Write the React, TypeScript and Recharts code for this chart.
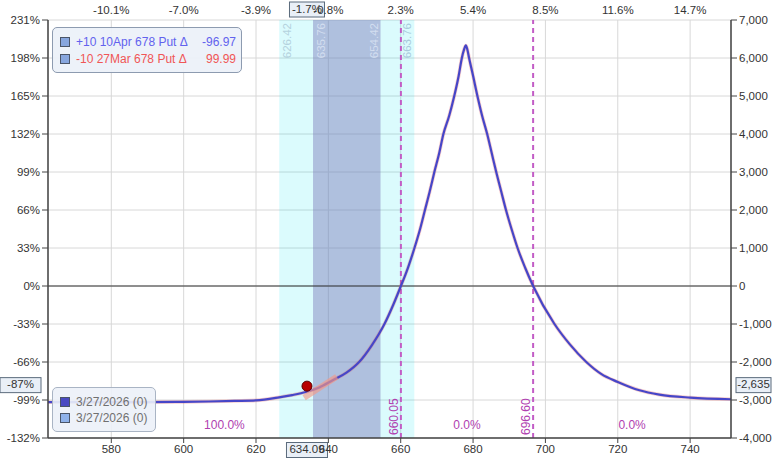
// Put calendar P&L chart: price on x, dollar P&L on the right axis, % of capital on the left.
import {
  CartesianGrid,
  Line,
  LineChart,
  ReferenceArea,
  ReferenceDot,
  ReferenceLine,
  XAxis,
  YAxis,
} from "recharts";

const prices = [
  562.5, 570, 580, 590, 600, 607, 614, 620, 626.4, 630, 633.8, 637.5, 641.2, 645,
  648.5, 652, 655.5, 658, 660.05, 662, 663.8, 665.3, 666.7, 668, 669.3, 670.6,
  671.8, 673.4, 674.8, 676, 676.9, 677.5, 678, 678.4, 678.9, 680, 681.2, 682.5,
  683.9, 685.2, 686.4, 687.8, 689.1, 690.7, 692.3, 694.4, 696.6, 702.5,
  706.7, 711.3, 715.5, 720, 726, 731.5, 740, 751.3,
];
const pnl = [
  -3058, -3058, -3057, -3056, -3050, -3040, -3025, -3010, -2930, -2870, -2790,
  -2670, -2480, -2280, -2000, -1560, -1000, -480, 0, 480, 1000, 1480, 2000, 2480,
  3000, 3480, 4000, 4480, 5000, 5520, 6000, 6220, 6330, 6230, 6000, 5530, 5000,
  4480, 4000, 3480, 3000, 2480, 2000, 1480, 1000, 480, 0, -1000, -1530,
  -2000, -2320, -2525, -2745, -2858, -2937, -2980,
];

const priceTicks = [580, 600, 620, 640, 660, 680, 700, 720, 740];
const moveLabels = ["-10.1%", "-7.0%", "-3.9%", "-0.8%", "2.3%", "5.4%", "8.5%", "11.6%", "14.7%"];
const pnlTicks = [-4000, -3000, -2000, -1000, 0, 1000, 2000, 3000, 4000, 5000, 6000, 7000];
const pctTicks = [-132, -99, -66, -33, 0, 33, 66, 99, 132, 165, 198, 231];

const outerBand = [626.42, 663.76];
const innerBand = [635.76, 654.42];
const breakEvens = [660.05, 696.6];
const breakEvenLabels = ["660.05", "696.60"];
const probLabels = ["100.0%", "0.0%", "0.0%"];

const currentPrice = 634.09;
const currentPnl = -2635;
const currentMove = "-1.7%";
const currentPct = "-87%";
const tangent = [
  { x: 633.3, y: -2940 },
  { x: 642.3, y: -2390 },
];

const legendRows = [
  { text: "+10 10Apr 678 Put Δ", value: "-96.97", color: "#6262ee" },
  { text: "-10 27Mar 678 Put Δ", value: "99.99", color: "#f05656" },
];
const dateRows = [
  { text: "3/27/2026 (0)", swatch: "#4a4ac2" },
  { text: "3/27/2026 (0)", swatch: "#8fb2ea" },
];

const xMin = 562.5;
const xMax = 751.3;
const data = prices.map((p, i) => ({ price: p, pnl: pnl[i] }));
const regionEdges = [xMin, ...breakEvens, xMax];

const FONT = "'Liberation Sans', Arial, sans-serif";
const AX = { xAxisId: "price", yAxisId: "pnl" };

function BandText(edge: "left" | "right", text: string, color: string) {
  return (props: any) => {
    const vb = props.viewBox;
    const cx = edge === "left" ? vb.x + 9 : vb.x - 6;
    const cy = vb.y + 3;
    return (
      <text
        x={cx}
        y={cy}
        transform={`rotate(-90 ${cx} ${cy})`}
        textAnchor="end"
        dominantBaseline="middle"
        fill={color}
        fontSize={11.5}
      >
        {text}
      </text>
    );
  };
}

function BreakEvenText(text: string) {
  return (props: any) => {
    const vb = props.viewBox;
    const cx = vb.x - 6.5;
    const cy = vb.y + vb.height - 3;
    return (
      <text
        x={cx}
        y={cy}
        transform={`rotate(-90 ${cx} ${cy})`}
        textAnchor="start"
        dominantBaseline="middle"
        fill="#b040b0"
        fontSize={12}
      >
        {text}
      </text>
    );
  };
}

function Tag({ x, y, w, text, anchor }: { x: number; y: number; w: number; text: string; anchor: "start" | "middle" | "end" }) {
  // small boxed value tag on an axis
  const left = anchor === "middle" ? x - w / 2 : anchor === "end" ? x - w : x;
  return (
    <g>
      <rect x={left} y={y - 7.5} width={w} height={15} fill="#e9eff7" stroke="#5b6b7c" strokeWidth={1} />
      <text x={left + w / 2} y={y} textAnchor="middle" dominantBaseline="middle" fill="#333" fontSize={11.5}>
        {text}
      </text>
    </g>
  );
}

export default function App() {
  return (
    <div style={{ position: "absolute", left: 0, top: 0, width: 780, height: 460, background: "#fff", fontFamily: FONT }}>
      <LineChart width={780} height={460} data={data} margin={{ top: 0, right: 0, bottom: 0, left: 0 }}>
        {/* translucent bands so the grid underneath shows through */}
        <ReferenceArea {...AX} x1={outerBand[0]} x2={outerBand[1]} fill="#00e6ee" fillOpacity={0.14} stroke="none" />
        <ReferenceArea {...AX} x1={innerBand[0]} x2={innerBand[1]} fill="#7978b7" fillOpacity={0.45} stroke="none" />
        <CartesianGrid xAxisId="price" yAxisId="pnl" stroke="#d8d8d8" />
        <XAxis
          xAxisId="price"
          dataKey="price"
          type="number"
          domain={[xMin, xMax]}
          ticks={priceTicks}
          interval={0}
          allowDataOverflow
          height={22}
          tickSize={5}
          tick={{ fill: "#333", fontSize: 11.5 }}
          axisLine={{ stroke: "#444", strokeWidth: 1.5 }}
          tickLine={{ stroke: "#444" }}
        />
        <XAxis
          xAxisId="move"
          dataKey="price"
          orientation="top"
          type="number"
          domain={[xMin, xMax]}
          ticks={priceTicks}
          interval={0}
          allowDataOverflow
          height={20}
          tickSize={4}
          tickFormatter={(v: number) => moveLabels[priceTicks.indexOf(v)]}
          tick={{ fill: "#333", fontSize: 11.5 }}
          axisLine={false}
          tickLine={false}
        />
        <YAxis
          yAxisId="pct"
          orientation="left"
          type="number"
          domain={[-132, 231]}
          ticks={pctTicks}
          interval={0}
          allowDataOverflow
          width={48}
          tickFormatter={(v: number) => `${v}%`}
          tick={{ fill: "#333", fontSize: 11.5 }}
          axisLine={{ stroke: "#444", strokeWidth: 1.5 }}
          tickLine={{ stroke: "#444" }}
        />
        <YAxis
          yAxisId="pnl"
          orientation="right"
          type="number"
          domain={[-4000, 7000]}
          ticks={pnlTicks}
          interval={0}
          allowDataOverflow
          width={49}
          tickFormatter={(v: number) => v.toLocaleString("en-US")}
          tick={{ fill: "#333", fontSize: 11.5 }}
          axisLine={{ stroke: "#444", strokeWidth: 1.5 }}
          tickLine={{ stroke: "#444" }}
        />

        <ReferenceLine {...AX} x={outerBand[0]} stroke="none" label={BandText("left", "626.42", "#b4d2de")} />
        <ReferenceLine {...AX} x={innerBand[0]} stroke="none" label={BandText("left", "635.76", "#d3def0")} />
        <ReferenceLine {...AX} x={innerBand[1]} stroke="none" label={BandText("right", "654.42", "#d3def0")} />
        <ReferenceLine {...AX} x={outerBand[1]} stroke="none" label={BandText("right", "663.76", "#a9cbdc")} />

        <ReferenceLine {...AX} y={0} stroke="#333" strokeWidth={1.2} />
        {breakEvens.map((b, i) => (
          <ReferenceLine
            key={b}
            {...AX}
            x={b}
            stroke="#c25cc6"
            strokeWidth={2}
            strokeDasharray="5 4"
            label={BreakEvenText(breakEvenLabels[i])}
          />
        ))}
        {probLabels.map((t, i) => (
          <ReferenceDot
            key={i}
            {...AX}
            x={(regionEdges[i] + regionEdges[i + 1]) / 2}
            y={-3640}
            r={0}
            stroke="none"
            label={{ value: t, position: "center", fill: "#b040b0", fontSize: 12 }}
          />
        ))}

        <Line
          {...AX}
          dataKey="pnl"
          type="monotone"
          stroke="#e05a5a"
          strokeOpacity={0.3}
          strokeWidth={3.6}
          dot={false}
          isAnimationActive={false}
        />
        <Line
          {...AX}
          dataKey="pnl"
          type="monotone"
          stroke="#4646c8"
          strokeWidth={2.2}
          dot={false}
          isAnimationActive={false}
        />
        <ReferenceLine
          {...AX}
          segment={tangent}
          stroke="#f29a88"
          strokeOpacity={0.65}
          strokeWidth={6}
        />
        <ReferenceDot {...AX} x={currentPrice} y={currentPnl} r={5} fill="#b80000" stroke="#5c0000" strokeWidth={1} />

        <ReferenceLine
          {...AX}
          x={currentPrice}
          stroke="none"
          label={(props: any) => {
            const vb = props.viewBox;
            return (
              <g>
                <Tag x={vb.x} y={9.5} w={35} text={currentMove} anchor="middle" />
                <Tag x={vb.x} y={450} w={41} text={currentPrice.toFixed(2)} anchor="middle" />
              </g>
            );
          }}
        />
        <ReferenceLine
          {...AX}
          y={currentPnl}
          stroke="none"
          label={(props: any) => {
            const vb = props.viewBox;
            return (
              <g>
                <Tag x={0} y={vb.y - 1} w={41} text={currentPct} anchor="start" />
                <Tag x={736} y={vb.y - 1} w={35} text={currentPnl.toLocaleString("en-US")} anchor="start" />
              </g>
            );
          }}
        />
      </LineChart>

      <div
        style={{
          position: "absolute",
          left: 52,
          top: 27,
          width: 190,
          height: 46,
          border: "1px solid #8d9bb0",
          borderRadius: 5,
          background: "rgba(236,241,248,0.92)",
          fontSize: 12,
          boxSizing: "border-box",
          padding: "5px 0 0 7px",
        }}
      >
        {legendRows.map((r) => (
          <div key={r.text} style={{ display: "flex", alignItems: "center", height: 17, color: r.color }}>
            <span style={{ width: 8, height: 8, border: "1px solid #4a5568", background: "#87a6de", marginRight: 6 }} />
            <span style={{ width: 118, whiteSpace: "nowrap" }}>{r.text}</span>
            <span style={{ width: 42, textAlign: "right" }}>{r.value}</span>
          </div>
        ))}
      </div>

      <div
        style={{
          position: "absolute",
          left: 52,
          top: 387,
          width: 104,
          height: 45,
          border: "1px solid #a9b4c4",
          borderRadius: 5,
          background: "rgba(236,241,248,0.9)",
          fontSize: 12,
          boxSizing: "border-box",
          padding: "6px 0 0 7px",
          color: "#707070",
        }}
      >
        {dateRows.map((r, i) => (
          <div key={i} style={{ display: "flex", alignItems: "center", height: 16 }}>
            <span style={{ width: 8, height: 8, border: "1px solid #4a5568", background: r.swatch, marginRight: 6 }} />
            <span>{r.text}</span>
          </div>
        ))}
      </div>
    </div>
  );
}
